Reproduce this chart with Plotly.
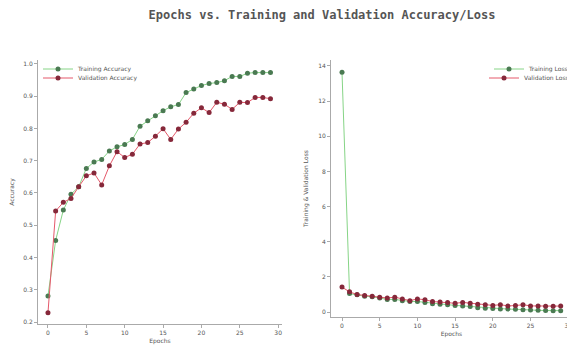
import plotly.graph_objects as go

epochs = list(range(30))
train_acc = [0.281, 0.453, 0.547, 0.596, 0.619, 0.676, 0.696, 0.704, 0.730, 0.743,
             0.750, 0.766, 0.807, 0.824, 0.839, 0.855, 0.867, 0.874, 0.911, 0.922,
             0.933, 0.939, 0.942, 0.948, 0.961, 0.961, 0.971, 0.973, 0.973, 0.973]
val_acc = [0.229, 0.544, 0.571, 0.583, 0.619, 0.653, 0.662, 0.625, 0.684, 0.728,
           0.710, 0.720, 0.752, 0.756, 0.776, 0.799, 0.766, 0.798, 0.819, 0.847,
           0.864, 0.849, 0.881, 0.875, 0.859, 0.881, 0.880, 0.896, 0.896, 0.892]
train_loss = [13.65, 1.05, 0.98, 0.90, 0.87, 0.80, 0.72, 0.72, 0.65, 0.60,
              0.60, 0.55, 0.48, 0.45, 0.42, 0.38, 0.35, 0.32, 0.25, 0.22,
              0.20, 0.18, 0.17, 0.16, 0.13, 0.12, 0.10, 0.09, 0.08, 0.08]
val_loss = [1.42, 1.15, 1.00, 0.95, 0.90, 0.85, 0.80, 0.85, 0.75, 0.65,
            0.75, 0.70, 0.60, 0.58, 0.55, 0.50, 0.55, 0.50, 0.45, 0.42,
            0.38, 0.42, 0.35, 0.37, 0.42, 0.35, 0.35, 0.33, 0.33, 0.34]
x_ticks = [0, 5, 10, 15, 20, 25, 30]
acc_ticks = [0.2, 0.3, 0.4, 0.5, 0.6, 0.7, 0.8, 0.9, 1.0]
loss_ticks = [0, 2, 4, 6, 8, 10, 12, 14]

green_line = "#86d486"
green_mark = "#4a7a52"
red_line = "#e5586a"
red_mark = "#86283a"

# the page body has an 8px default margin; lay out in window pixels
OFF = 8
W, H = 575 - OFF, 345 - OFF


def px(x):
    return (x - OFF) / W


def py(y):
    return 1 - (y - OFF) / H


fig = go.Figure()
fig.add_trace(go.Scatter(x=epochs, y=train_acc, mode="lines+markers", name="Training Accuracy",
                         line=dict(color=green_line, width=1),
                         marker=dict(color=green_mark, size=5), xaxis="x", yaxis="y", legend="legend"))
fig.add_trace(go.Scatter(x=epochs, y=val_acc, mode="lines+markers", name="Validation Accuracy",
                         line=dict(color=red_line, width=1),
                         marker=dict(color=red_mark, size=5), xaxis="x", yaxis="y", legend="legend2"))
fig.add_trace(go.Scatter(x=epochs, y=train_loss, mode="lines+markers", name="Training Loss",
                         line=dict(color=green_line, width=1),
                         marker=dict(color=green_mark, size=5), xaxis="x2", yaxis="y2", legend="legend3"))
fig.add_trace(go.Scatter(x=epochs, y=val_loss, mode="lines+markers", name="Validation Loss",
                         line=dict(color=red_line, width=1),
                         marker=dict(color=red_mark, size=5), xaxis="x2", yaxis="y2", legend="legend4"))

axis_common = dict(showgrid=False, zeroline=False, showline=True, linecolor="#aaa", linewidth=1,
                   ticks="outside", ticklen=3, tickcolor="#aaa", automargin=False,
                   tickfont=dict(size=6, color="#555", family="DejaVu Sans"))
title_font = dict(size=6, color="#555", family="DejaVu Sans")
leg_common = dict(bgcolor="rgba(255,255,255,0)", font=dict(size=6, color="#555", family="DejaVu Sans"),
                  itemwidth=30, borderwidth=0, tracegroupgap=0)

fig.update_layout(
    width=W, height=H,
    margin=dict(l=0, r=0, t=0, b=0, autoexpand=False),
    paper_bgcolor="white", plot_bgcolor="white",
    title=dict(text="<b>Epochs vs. Training and Validation Accuracy/Loss</b>",
               x=px(322), xanchor="center", y=py(15), yanchor="middle", automargin=False,
               font=dict(family="DejaVu Sans Mono", size=12, color="#555")),
    xaxis=dict(domain=[px(38), px(282)], range=[-1.3, 30.5], tickvals=x_ticks,
               title=dict(text="Epochs", font=title_font, standoff=3), anchor="y", **axis_common),
    yaxis=dict(domain=[py(324), py(60)], range=[0.194, 1.012], tickvals=acc_ticks,
               tickformat=".1f",
               title=dict(text="Accuracy", font=title_font, standoff=9), anchor="x", **axis_common),
    xaxis2=dict(domain=[px(331), px(572)], range=[-1.46, 30.5], tickvals=x_ticks,
                title=dict(text="Epochs", font=title_font, standoff=3), anchor="y2", **axis_common),
    yaxis2=dict(domain=[py(317), py(60)], range=[-0.28, 14.34], tickvals=loss_ticks,
                title=dict(text="Training & Validation Loss", font=title_font, standoff=9),
                anchor="x2", **axis_common),
    legend=dict(x=px(38), y=py(69), xanchor="left", yanchor="middle", **leg_common),
    legend2=dict(x=px(38), y=py(78), xanchor="left", yanchor="middle", **leg_common),
    legend3=dict(x=px(574), y=py(69), xanchor="right", yanchor="middle", **leg_common),
    legend4=dict(x=px(574), y=py(78), xanchor="right", yanchor="middle", **leg_common),
    showlegend=True,
)

fig.write_html("out.html")
